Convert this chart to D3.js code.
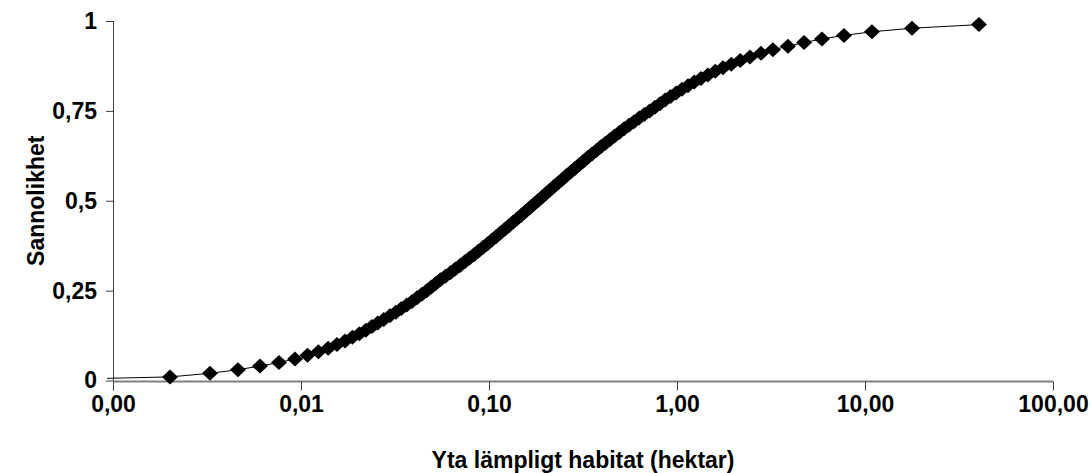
<!DOCTYPE html>
<html lang="sv">
<head>
<meta charset="UTF-8">
<title>Sannolikhet mot yta lämpligt habitat</title>
<script src="https://cdnjs.cloudflare.com/ajax/libs/d3/7.8.5/d3.min.js"></script>
<style>
    body { margin: 0; background: #fff; }
    text { font-family: Arial, "Liberation Sans", sans-serif; font-weight: bold; fill: #000; }
</style>
</head>
<body>
<div id="chart"></div>
<script>
// area (hectares) per point
const areas = [
    0.00201, 0.00328, 0.00462, 0.00605, 0.00764, 0.00929, 0.01083, 0.01238, 0.01395, 0.01554,
    0.01715, 0.01878, 0.02044, 0.02213, 0.02385, 0.02560, 0.02756, 0.02972, 0.03192, 0.03420,
    0.03652, 0.03894, 0.04143, 0.04398, 0.04664, 0.04937, 0.05218, 0.05513, 0.05866, 0.06236,
    0.06618, 0.07018, 0.07433, 0.07866, 0.08323, 0.08794, 0.09287, 0.09802, 0.10337, 0.10899,
    0.11487, 0.12099, 0.12739, 0.13413, 0.14120, 0.14859, 0.15635, 0.16447, 0.17298, 0.18197,
    0.19125, 0.20101, 0.21135, 0.22222, 0.23366, 0.24580, 0.25858, 0.27208, 0.28642, 0.30171,
    0.31776, 0.33497, 0.35324, 0.37279, 0.39362, 0.41591, 0.43972, 0.46559, 0.49325, 0.52304,
    0.55539, 0.59049, 0.62873, 0.67023, 0.71563, 0.76296, 0.81189, 0.86500, 0.92442, 0.98969,
    1.0627, 1.1441, 1.2359, 1.3405, 1.4592, 1.5966, 1.7568, 1.9450, 2.1702, 2.4434,
    2.7990, 3.2359, 3.8905, 4.7424, 5.9020, 7.7268, 10.889, 17.783, 40.365
];
const probs = [
    0.01, 0.02, 0.03, 0.04, 0.05, 0.06, 0.07, 0.08, 0.09, 0.10,
    0.11, 0.12, 0.13, 0.14, 0.15, 0.16, 0.17, 0.18, 0.19, 0.20,
    0.21, 0.22, 0.23, 0.24, 0.25, 0.26, 0.27, 0.28, 0.29, 0.30,
    0.31, 0.32, 0.33, 0.34, 0.35, 0.36, 0.37, 0.38, 0.39, 0.40,
    0.41, 0.42, 0.43, 0.44, 0.45, 0.46, 0.47, 0.48, 0.49, 0.50,
    0.51, 0.52, 0.53, 0.54, 0.55, 0.56, 0.57, 0.58, 0.59, 0.60,
    0.61, 0.62, 0.63, 0.64, 0.65, 0.66, 0.67, 0.68, 0.69, 0.70,
    0.71, 0.72, 0.73, 0.74, 0.75, 0.76, 0.77, 0.78, 0.79, 0.80,
    0.81, 0.82, 0.83, 0.84, 0.85, 0.86, 0.87, 0.88, 0.89, 0.90,
    0.91, 0.92, 0.93, 0.94, 0.95, 0.96, 0.97, 0.98, 0.99
];
// the line starts just left of the axis, without a marker
const lineStart = [0.00093, 0.006];

const xTicks = [0.001, 0.01, 0.1, 1, 10, 100];
const xTickLabels = ["0,00", "0,01", "0,10", "1,00", "10,00", "100,00"];
const yTicks = [0, 0.25, 0.5, 0.75, 1];
const yTickLabels = ["0", "0,25", "0,5", "0,75", "1"];

const width = 1091, height = 473;
const m = { left: 113, right: 1053, top: 21, bottom: 380.5 };
const fontSize = 23;

const svg = d3.select("#chart").append("svg")
    .attr("width", width)
    .attr("height", height);

const x = d3.scaleLog().domain([0.001, 100]).range([m.left, m.right]);
const y = d3.scaleLinear().domain([0, 1]).range([m.bottom, m.top]);

const points = areas.map((a, i) => ({ a, p: probs[i] }));

svg.append("defs").append("clipPath").attr("id", "plot")
    .append("rect")
    .attr("x", m.left - 6).attr("y", 0)
    .attr("width", m.right - m.left + 40).attr("height", m.bottom + 2);

// y axis
const yAxis = svg.append("g")
    .attr("transform", `translate(${m.left},0)`)
    .call(d3.axisLeft(y).tickValues(yTicks).tickSize(7).tickFormat((d, i) => yTickLabels[i]));
yAxis.select(".domain").attr("d", `M0.5,${m.top}V${m.bottom + 10}`).attr("stroke", "#404040");
yAxis.selectAll(".tick line").attr("stroke", "#404040");
yAxis.selectAll(".tick text")
    .attr("x", -16)
    .attr("font-size", fontSize)
    .attr("font-family", "Arial, 'Liberation Sans', sans-serif")
    .attr("font-weight", "bold");

// x axis
const xAxis = svg.append("g")
    .attr("transform", `translate(0,${m.bottom + 1})`)
    .call(d3.axisBottom(x).tickValues(xTicks).tickSize(9).tickFormat((d, i) => xTickLabels[i]));
xAxis.select(".domain").attr("d", `M${m.left},0H${m.right}`).attr("stroke", "#808080").attr("stroke-width", 2);
xAxis.selectAll(".tick line").attr("stroke", "#404040");
xAxis.selectAll(".tick text")
    .attr("y", 14)
    .attr("font-size", fontSize)
    .attr("font-family", "Arial, 'Liberation Sans', sans-serif")
    .attr("font-weight", "bold");

// curve
const line = d3.line().x(d => x(d.a)).y(d => y(d.p));
svg.append("path")
    .datum([{ a: lineStart[0], p: lineStart[1] }].concat(points))
    .attr("clip-path", "url(#plot)")
    .attr("fill", "none")
    .attr("stroke", "#000")
    .attr("stroke-width", 1)
    .attr("d", line);

// diamond markers
svg.append("g")
    .selectAll("path")
    .data(points)
    .enter()
    .append("path")
    .attr("transform", d => `translate(${x(d.a)},${y(d.p)})`)
    .attr("d", "M0,-7.5L8,0L0,7.5L-8,0Z")
    .attr("fill", "#000");

// axis titles
svg.append("text")
    .attr("x", (m.left + m.right) / 2)
    .attr("y", 468)
    .attr("text-anchor", "middle")
    .attr("font-size", fontSize)
    .text("Yta lämpligt habitat (hektar)");

svg.append("text")
    .attr("transform", `translate(44,${(m.top + m.bottom) / 2}) rotate(-90)`)
    .attr("text-anchor", "middle")
    .attr("font-size", fontSize)
    .text("Sannolikhet");
</script>
</body>
</html>
